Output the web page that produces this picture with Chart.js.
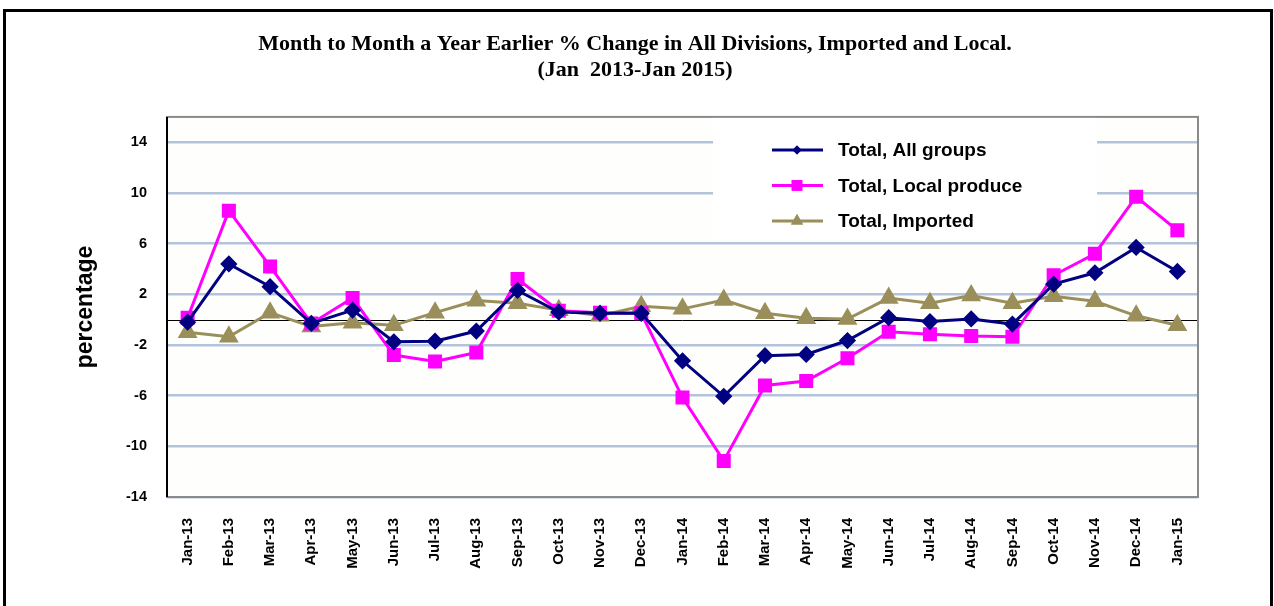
<!DOCTYPE html>
<html lang="en">
<head>
  <meta charset="UTF-8" />
  <title>Month to Month a Year Earlier % Change</title>
  <script src="https://cdn.jsdelivr.net/npm/chart.js"></script>
  <style>
    body { margin: 0; background: #fff; }
    #wrap { position: relative; width: 1274px; height: 606px; overflow: hidden; }
    #frame { position: absolute; left: 3px; top: 9px; width: 1264px; height: 620px; border: 3px solid #000; pointer-events: none; }
    canvas { position: absolute; left: 0; top: 0; }
  </style>
</head>
<body>
<div id="wrap">
  <canvas id="priceChart" width="1274" height="606"></canvas>
  <div id="frame"></div>
</div>

<script>
const months = ['Jan-13', 'Feb-13', 'Mar-13', 'Apr-13', 'May-13', 'Jun-13', 'Jul-13', 'Aug-13', 'Sep-13', 'Oct-13', 'Nov-13', 'Dec-13',
  'Jan-14', 'Feb-14', 'Mar-14', 'Apr-14', 'May-14', 'Jun-14', 'Jul-14', 'Aug-14', 'Sep-14', 'Oct-14', 'Nov-14', 'Dec-14', 'Jan-15'];
const allGroups = [-0.2, 4.4, 2.6, -0.3, 0.75, -1.75, -1.7, -0.9, 2.3, 0.6, 0.5, 0.5,
  -3.25, -6.05, -2.85, -2.75, -1.65, 0.15, -0.15, 0.05, -0.35, 2.8, 3.7, 5.7, 3.8];
const localProduce = [0.15, 8.6, 4.2, -0.3, 1.7, -2.8, -3.3, -2.6, 3.2, 0.7, 0.55, 0.5,
  -6.15, -11.15, -5.2, -4.85, -3.05, -0.95, -1.15, -1.3, -1.35, 3.5, 5.2, 9.7, 7.05];
const imported = [-1.0, -1.35, 0.55, -0.55, -0.25, -0.45, 0.55, 1.5, 1.3, 0.75, 0.3, 1.05,
  0.85, 1.55, 0.5, 0.1, 0.05, 1.7, 1.3, 1.9, 1.3, 1.85, 1.45, 0.3, -0.45];
const yTicks = [-14, -10, -6, -2, 2, 6, 10, 14];

const navy = '#000080';
const magenta = '#FF00FF';
const olive = '#9A8F5B';

// plot frame, zero line and the boxed legend inside the plot
const plotExtras = {
  id: 'plotExtras',
  beforeDraw(chart) {
    const a = chart.chartArea;
    const ctx = chart.ctx;
    ctx.save();
    ctx.fillStyle = '#FEFEFC';
    ctx.fillRect(a.left, a.top, a.right - a.left, a.bottom - a.top);
    ctx.restore();
  },
  beforeDatasetsDraw(chart) {
    const a = chart.chartArea;
    const ctx = chart.ctx;
    const y0 = chart.scales.y.getPixelForValue(0);
    ctx.save();
    ctx.strokeStyle = '#000';
    ctx.lineWidth = 1;
    ctx.beginPath();
    ctx.moveTo(a.left, Math.round(y0) + 0.5);
    ctx.lineTo(a.right, Math.round(y0) + 0.5);
    ctx.stroke();
    ctx.strokeStyle = '#8A8A8A';
    ctx.lineWidth = 2;
    ctx.strokeRect(a.left, a.top, a.right - a.left, a.bottom - a.top);
    ctx.strokeStyle = '#000';
    ctx.beginPath();
    ctx.moveTo(a.left, a.top);
    ctx.lineTo(a.left, a.bottom);
    ctx.stroke();
    ctx.restore();
  },
  afterDatasetsDraw(chart) {
    const ctx = chart.ctx;
    const a = chart.chartArea;
    const box = { x: 713, y: a.top + 1, w: 384, h: 121 };
    ctx.save();
    ctx.fillStyle = '#fff';
    ctx.fillRect(box.x, box.y, box.w, box.h);
    ctx.font = 'bold 19px Arial, "Liberation Sans", sans-serif';
    ctx.textBaseline = 'middle';
    chart.data.datasets.forEach((ds, i) => {
      const y = box.y + 32 + i * 35.5;
      ctx.strokeStyle = ds.borderColor;
      ctx.lineWidth = 3;
      ctx.beginPath();
      ctx.moveTo(772, y);
      ctx.lineTo(823, y);
      ctx.stroke();
      ctx.fillStyle = ds.borderColor;
      Chart.helpers.drawPoint(ctx, {
        pointStyle: ds.pointStyle, radius: ds.legendRadius, borderWidth: 0, rotation: 0
      }, 797, y);
      ctx.fill();
      ctx.fillStyle = '#000';
      ctx.fillText(ds.label, 838, y + 1);
    });
    ctx.restore();
  }
};

new Chart(document.getElementById('priceChart'), {
  type: 'line',
  data: {
    labels: months,
    datasets: [
      { label: 'Total, All groups', data: allGroups, borderColor: navy, backgroundColor: navy,
        pointStyle: 'rectRot', pointRadius: 6.5, legendRadius: 4.5, borderWidth: 3 },
      { label: 'Total, Local produce', data: localProduce, borderColor: magenta, backgroundColor: magenta,
        pointStyle: 'rect', pointRadius: 7.8, legendRadius: 7.5, borderWidth: 3 },
      { label: 'Total, Imported', data: imported, borderColor: olive, backgroundColor: olive,
        pointStyle: 'triangle', pointRadius: 8.5, legendRadius: 7, borderWidth: 3 }
    ]
  },
  options: {
    responsive: false,
    animation: false,
    layout: { padding: { left: 72, right: 76, top: 0, bottom: 0 } },
    elements: { line: { tension: 0 }, point: { borderWidth: 0, hoverRadius: 7 } },
    plugins: {
      legend: { display: false },
      tooltip: { enabled: false },
      title: {
        display: true,
        text: ['Month to Month a Year Earlier % Change in All Divisions, Imported and Local.', '(Jan  2013-Jan 2015)'],
        color: '#000',
        font: { family: '"Times New Roman", "Liberation Serif", serif', size: 22, weight: 'bold', lineHeight: 1.18 },
        padding: { top: 31, bottom: 34 }
      }
    },
    scales: {
      x: {
        offset: true,
        grid: { display: false, drawTicks: false },
        border: { display: false },
        ticks: {
          color: '#000', maxRotation: 90, minRotation: 90, autoSkip: false, padding: 21,
          font: { family: 'Arial, "Liberation Sans", sans-serif', size: 15, weight: 'bold' }
        },
        afterFit(scale) { scale.height = 109; }
      },
      y: {
        min: -14,
        max: 16,
        afterBuildTicks(scale) { scale.ticks = yTicks.map(v => ({ value: v })); },
        grid: { color: '#B3C3DC', lineWidth: 2.5, drawTicks: false },
        border: { display: false },
        ticks: {
          color: '#000', padding: 20,
          font: { family: 'Arial, "Liberation Sans", sans-serif', size: 14.5, weight: 'bold' }
        },
        title: {
          display: true, text: 'percentage', color: '#000',
          font: { family: 'Arial, "Liberation Sans", sans-serif', size: 23, weight: 'bold' },
          padding: { top: 0, bottom: 0 }
        },
        afterFit(scale) { scale.width = 95; }
      }
    }
  },
  plugins: [plotExtras]
});
</script>
</body>
</html>
